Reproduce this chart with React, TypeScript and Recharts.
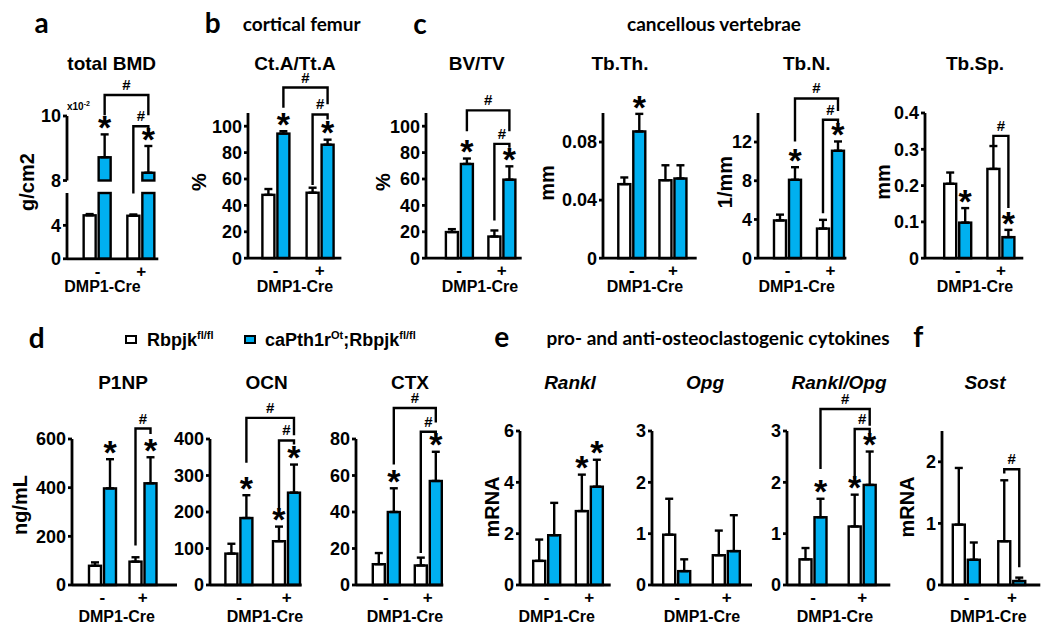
import React from 'react'
import { BarChart, Bar, XAxis, YAxis, ErrorBar } from 'recharts'

const GROUPS = ['-', '+']

// a  total BMD (x10^-2 g/cm2)
const bmdWt = [5.2, 5.15]
const bmdWtSd = [0.15, 0.15]
const bmdCa = [8.72, 8.24]
const bmdCaSd = [0.71, 0.83]

// b  Ct.A/Tt.A (%)
const ctaWt = [48, 49.6]
const ctaWtSd = [4.4, 3.8]
const ctaCa = [94.4, 86]
const ctaCaSd = [1.8, 3.8]

// c  BV/TV (%)
const bvWt = [19.8, 16.4]
const bvWtSd = [2.2, 4.6]
const bvCa = [71.4, 59.5]
const bvCaSd = [4.1, 10.1]

// c  Tb.Th. (mm)
const tbthWt = [0.051, 0.0537]
const tbthWtSd = [0.0046, 0.0103]
const tbthCa = [0.0873, 0.0549]
const tbthCaSd = [0.0121, 0.0091]

// c  Tb.N. (1/mm)
const tbnWt = [3.9, 3.06]
const tbnWtSd = [0.6, 0.9]
const tbnCa = [8.1, 11.1]
const tbnCaSd = [1.3, 0.96]

// c  Tb.Sp. (mm)
const tbspWt = [0.205, 0.246]
const tbspWtSd = [0.031, 0.063]
const tbspCa = [0.098, 0.058]
const tbspCaSd = [0.04, 0.02]

// d  serum markers
const p1npWt = [79, 96]
const p1npWtSd = [14, 18]
const p1npCa = [397, 418]
const p1npCaSd = [120, 107]

const ocnWt = [86, 120]
const ocnWtSd = [27, 40]
const ocnCa = [183.5, 253]
const ocnCaSd = [62.5, 77]

const ctxWt = [11.4, 10.7]
const ctxWtSd = [6.1, 4.3]
const ctxCa = [40, 57]
const ctxCaSd = [13, 16]

// e  cytokines (mRNA)
const ranklWt = [0.94, 2.88]
const ranklWtSd = [0.83, 1.42]
const ranklCa = [1.94, 3.83]
const ranklCaSd = [1.26, 1.05]

const opgWt = [0.98, 0.58]
const opgWtSd = [0.7, 0.48]
const opgCa = [0.27, 0.66]
const opgCaSd = [0.23, 0.7]

const ratioWt = [0.5, 1.14]
const ratioWtSd = [0.22, 0.62]
const ratioCa = [1.32, 1.95]
const ratioCaSd = [0.36, 0.65]

// f  Sost (mRNA)
const sostWt = [0.98, 0.71]
const sostWtSd = [0.92, 0.99]
const sostCa = [0.41, 0.065]
const sostCaSd = [0.28, 0.055]

const BLUE = '#00b0f0'
const FONT = '"Liberation Sans", Arial, sans-serif'
const HEAD = 'Lato, "Open Sans", sans-serif'
const BAR = 12
const GAP = 3
const YW = 60
const ROOM = 62
const XH = 30
const AX = 2.8
const LW = 2.4
const STAR = 34

type Bracket = { from: 'wt' | 'ca'; top: number; lb: number; rb: number }

type ChartProps = {
  wt: number[] | null
  wtSd?: number[]
  ca: number[]
  caSd?: number[]
  wtStar?: boolean[]
  caStar?: boolean[]
  brackets?: Bracket[]
  domain: [number, number]
  ticks: number[]
  x0: number
  x1: number
  yTop: number
  yBase: number
  padL: number
  padR: number
  hideX?: boolean
  below?: number
  cap?: boolean
}

function MiniChart(p: ChartProps) {
  const [dMin, dMax] = p.domain
  const plotW = p.x1 - p.x0
  const plotH = p.yBase - p.yTop
  const ppu = plotH / (dMax - dMin)
  const band = (plotW - p.padL - p.padR) / 2
  const below = p.hideX ? p.below ?? 0 : XH

  const rows = GROUPS.map((g, i) => ({
    g,
    wt: p.wt ? p.wt[i] : dMin,
    wtErr: p.wtSd ? [0, p.wtSd[i]] : [0, 0],
    ca: p.cap ? Math.min(p.ca[i], dMax) : p.ca[i],
    caErr: p.caSd ? [0, p.caSd[i]] : [0, 0],
  }))

  const shape = (series: 'wt' | 'ca') => (s: any) => {
    const index = s.index ?? GROUPS.indexOf(s.payload?.g)
    const { x, y, width, height } = s
    const row = rows[index]
    if (!row || x == null) return <g />
    const v = row[series]
    if (v <= dMin) return <g />
    const sd = (series === 'wt' ? p.wtSd : p.caSd)?.[index] ?? 0
    const py = (u: number) => y - (u - v) * ppu
    const cx = x + width / 2
    const star = (series === 'wt' ? p.wtStar : p.caStar)?.[index]
    return (
      <g>
        <rect x={x} y={y} width={width} height={height} fill={series === 'wt' ? '#fff' : BLUE} stroke="#000" strokeWidth={LW} />
        {star && (
          <text x={cx} y={py(v + sd) - 13 + STAR * 0.52} textAnchor="middle" fontSize={STAR} fontWeight={700} fill="#000">
            *
          </text>
        )}
        {series === 'ca' && index === 1 &&
          (p.brackets ?? []).map((b, k) => {
            const lx = b.from === 'ca' ? cx - band : cx - (BAR + GAP)
            const ty = py(b.top)
            return (
              <g key={k}>
                <path d={`M${lx},${py(b.lb)}V${ty}H${cx}V${py(b.rb)}`} fill="none" stroke="#000" strokeWidth={LW} />
                <text x={(lx + cx) / 2} y={ty - 5} textAnchor="middle" fontSize={15} fontWeight={700} fill="#000">
                  #
                </text>
              </g>
            )
          })}
      </g>
    )
  }

  const xTick = { fill: '#000', fontSize: 17, fontWeight: 700 }
  const yTick = { fill: '#000', fontSize: 18, fontWeight: 700 }

  return (
    <div style={{ position: 'absolute', left: p.x0 - YW, top: p.yTop - ROOM }}>
      <BarChart
        width={YW + plotW + 6}
        height={ROOM + plotH + below}
        data={rows}
        margin={{ top: ROOM, right: 6, bottom: p.hideX ? below : 0, left: 0 }}
        barSize={BAR}
        barGap={GAP}
      >
        <XAxis
          dataKey="g"
          hide={p.hideX}
          height={XH}
          padding={{ left: p.padL, right: p.padR }}
          axisLine={{ stroke: '#000', strokeWidth: AX }}
          tickLine={false}
          tickSize={4}
          tick={xTick}
          interval={0}
        />
        <YAxis
          width={YW}
          type="number"
          domain={p.domain}
          ticks={p.ticks}
          interval={0}
          axisLine={{ stroke: '#000', strokeWidth: AX }}
          tickLine={{ stroke: '#000', strokeWidth: AX }}
          tickSize={4}
          tick={yTick}
        />
        <Bar dataKey="wt" isAnimationActive={false} shape={shape('wt')}>
          {p.wtSd && <ErrorBar dataKey="wtErr" width={4} stroke="#000" strokeWidth={LW} direction="y" isAnimationActive={false} />}
        </Bar>
        <Bar dataKey="ca" isAnimationActive={false} shape={shape('ca')}>
          {p.caSd && <ErrorBar dataKey="caErr" width={4} stroke="#000" strokeWidth={LW} direction="y" isAnimationActive={false} />}
        </Bar>
      </BarChart>
    </div>
  )
}

function Txt({ x, y, children, style }: { x: number; y: number; children: React.ReactNode; style?: React.CSSProperties }) {
  return (
    <div
      style={{
        position: 'absolute',
        left: x,
        top: y,
        transform: 'translate(-50%, -50%)',
        whiteSpace: 'nowrap',
        lineHeight: 1,
        ...style,
      }}
    >
      {children}
    </div>
  )
}

function VTxt({ x, y, children }: { x: number; y: number; children: React.ReactNode }) {
  return (
    <Txt x={x} y={y} style={{ transform: 'translate(-50%, -50%) rotate(-90deg)', fontSize: 20, fontWeight: 700 }}>
      {children}
    </Txt>
  )
}

type Panel = {
  title: string
  italic?: boolean
  yLabel: string
  tx: number
  ty: number
  lx: number
  ly: number
  dx: number
  dy: number
  chart: ChartProps
}

const ROW1_BASE = 258.5
const ROW2_BASE = 584.5

const panels: Panel[] = [
  {
    title: 'Ct.A/Tt.A', yLabel: '%', tx: 295, ty: 63, lx: 199, ly: 182, dx: 295, dy: 287,
    chart: {
      wt: ctaWt, wtSd: ctaWtSd, ca: ctaCa, caSd: ctaCaSd, caStar: [true, true],
      brackets: [
        { from: 'ca', top: 129.3, lb: 114, rb: 116.6 },
        { from: 'wt', top: 108.9, lb: 55.5, rb: 105 },
      ],
      domain: [0, 110], ticks: [0, 20, 40, 60, 80, 100],
      x0: 248.3, x1: 341.7, yTop: 113.3, yBase: ROW1_BASE, padL: 5.4, padR: -0.4,
    },
  },
  {
    title: 'BV/TV', yLabel: '%', tx: 476.7, ty: 63, lx: 383.3, ly: 182, dx: 480, dy: 287,
    chart: {
      wt: bvWt, wtSd: bvWtSd, ca: bvCa, caSd: bvCaSd, caStar: [true, true],
      brackets: [
        { from: 'ca', top: 112, lb: 96.2, rb: 96.2 },
        { from: 'wt', top: 86.6, lb: 28.6, rb: 83.6 },
      ],
      domain: [0, 110], ticks: [0, 20, 40, 60, 80, 100],
      x0: 426, x1: 521.7, yTop: 113.3, yBase: ROW1_BASE, padL: 11.9, padR: -1.2,
    },
  },
  {
    title: 'Tb.Th.', yLabel: 'mm', tx: 620, ty: 63, lx: 546.7, ly: 183, dx: 645, dy: 287,
    chart: {
      wt: tbthWt, wtSd: tbthWtSd, ca: tbthCa, caSd: tbthCaSd, caStar: [true, false],
      domain: [0, 0.1], ticks: [0, 0.04, 0.08],
      x0: 603.3, x1: 697, yTop: 113.3, yBase: ROW1_BASE, padL: 8.3, padR: 3.1,
    },
  },
  {
    title: 'Tb.N.', yLabel: '1/mm', tx: 806.7, ty: 63, lx: 725, ly: 182, dx: 796.7, dy: 287,
    chart: {
      wt: tbnWt, wtSd: tbnWtSd, ca: tbnCa, caSd: tbnCaSd, caStar: [true, true],
      brackets: [
        { from: 'ca', top: 16.5, lb: 12.06, rb: 15.2 },
        { from: 'wt', top: 14.3, lb: 4.65, rb: 13.9 },
      ],
      domain: [0, 15], ticks: [0, 4, 8, 12],
      x0: 758.3, x1: 846.7, yTop: 113.3, yBase: ROW1_BASE, padL: 8, padR: -5.6,
    },
  },
  {
    title: 'Tb.Sp.', yLabel: 'mm', tx: 975, ty: 63, lx: 882.7, ly: 182, dx: 975, dy: 287,
    chart: {
      wt: tbspWt, wtSd: tbspWtSd, ca: tbspCa, caSd: tbspCaSd, caStar: [true, true],
      brackets: [{ from: 'wt', top: 0.337, lb: 0.309, rb: 0.138 }],
      domain: [0, 0.4], ticks: [0, 0.1, 0.2, 0.3, 0.4],
      x0: 925, x1: 1023.3, yTop: 113.3, yBase: ROW1_BASE, padL: 11.2, padR: 0.7,
    },
  },
  {
    title: 'P1NP', yLabel: 'ng/mL', tx: 123, ty: 382, lx: 20, ly: 505, dx: 116.7, dy: 617,
    chart: {
      wt: p1npWt, wtSd: p1npWtSd, ca: p1npCa, caSd: p1npCaSd, caStar: [true, true],
      brackets: [{ from: 'wt', top: 643, lb: 162, rb: 621 }],
      domain: [0, 600], ticks: [0, 200, 400, 600],
      x0: 71.7, x1: 176.7, yTop: 438.5, yBase: ROW2_BASE, padL: 10, padR: 14,
    },
  },
  {
    title: 'OCN', yLabel: '', tx: 266.7, ty: 382, lx: 0, ly: 0, dx: 265, dy: 617,
    chart: {
      wt: ocnWt, wtSd: ocnWtSd, ca: ocnCa, caSd: ocnCaSd, wtStar: [false, true], caStar: [true, true],
      brackets: [
        { from: 'ca', top: 458, lb: 335, rb: 410 },
        { from: 'wt', top: 396, lb: 206, rb: 385 },
      ],
      domain: [0, 400], ticks: [0, 100, 200, 300, 400],
      x0: 210, x1: 301.7, yTop: 438.5, yBase: ROW2_BASE, padL: 5.4, padR: -8.9,
    },
  },
  {
    title: 'CTX', yLabel: '', tx: 410, ty: 382, lx: 0, ly: 0, dx: 405, dy: 617,
    chart: {
      wt: ctxWt, wtSd: ctxWtSd, ca: ctxCa, caSd: ctxCaSd, caStar: [true, true],
      brackets: [
        { from: 'ca', top: 97, lb: 66, rb: 89 },
        { from: 'wt', top: 84, lb: 17.6, rb: 81 },
      ],
      domain: [0, 80], ticks: [0, 20, 40, 60, 80],
      x0: 356, x1: 443.3, yTop: 438.5, yBase: ROW2_BASE, padL: 8.8, padR: -5.5,
    },
  },
  {
    title: 'Rankl', italic: true, yLabel: 'mRNA', tx: 570, ty: 382, lx: 491.7, ly: 507, dx: 556.7, dy: 617,
    chart: {
      wt: ranklWt, wtSd: ranklWtSd, ca: ranklCa, caSd: ranklCaSd, wtStar: [false, true], caStar: [false, true],
      domain: [0, 6], ticks: [0, 2, 4, 6],
      x0: 520, x1: 610.7, yTop: 430.5, yBase: ROW2_BASE, padL: 5.2, padR: 0.2,
    },
  },
  {
    title: 'Opg', italic: true, yLabel: '', tx: 705, ty: 382, lx: 0, ly: 0, dx: 702, dy: 617,
    chart: {
      wt: opgWt, wtSd: opgWtSd, ca: opgCa, caSd: opgCaSd,
      domain: [0, 3], ticks: [0, 1, 2, 3],
      x0: 651.7, x1: 751.7, yTop: 430.5, yBase: ROW2_BASE, padL: 0.2, padR: 0.6,
    },
  },
  {
    title: 'Rankl/Opg', italic: true, yLabel: '', tx: 839, ty: 382, lx: 0, ly: 0, dx: 835, dy: 617,
    chart: {
      wt: ratioWt, wtSd: ratioWtSd, ca: ratioCa, caSd: ratioCaSd, wtStar: [false, true], caStar: [true, true],
      brackets: [
        { from: 'ca', top: 3.43, lb: 2.26, rb: 3.1 },
        { from: 'wt', top: 3.04, lb: 2.07, rb: 2.95 },
      ],
      domain: [0, 3], ticks: [0, 1, 2, 3],
      x0: 786.7, x1: 890, yTop: 430.5, yBase: ROW2_BASE, padL: 1.5, padR: 3.4,
    },
  },
  {
    title: 'Sost', italic: true, yLabel: 'mRNA', tx: 985, ty: 382, lx: 906.7, ly: 507, dx: 988.3, dy: 617,
    chart: {
      wt: sostWt, wtSd: sostWtSd, ca: sostCa, caSd: sostCaSd,
      brackets: [{ from: 'wt', top: 1.88, lb: 1.81, rb: 0.29 }],
      domain: [0, 2.5], ticks: [0, 1, 2],
      x0: 941.7, x1: 1040, yTop: 430.5, yBase: ROW2_BASE, padL: 1.8, padR: 5.6,
    },
  },
]

const titleStyle: React.CSSProperties = { fontSize: 19, fontWeight: 700 }
const xLabelStyle: React.CSSProperties = { fontSize: 16, fontWeight: 700 }
const letterStyle: React.CSSProperties = { fontFamily: HEAD, fontSize: 28, fontWeight: 700 }
const headStyle: React.CSSProperties = { fontFamily: HEAD, fontSize: 19, fontWeight: 700 }
const supStyle: React.CSSProperties = { fontSize: 11, position: 'relative', top: -7 }

function LegendBox({ x, fill }: { x: number; fill: string }) {
  return (
    <div
      style={{
        position: 'absolute',
        left: x,
        top: 335,
        width: 12,
        height: 9,
        boxSizing: 'border-box',
        border: '2.5px solid #000',
        background: fill,
      }}
    />
  )
}

export default function App() {
  return (
    <div
      style={{
        position: 'absolute',
        left: 0,
        top: 0,
        width: 1050,
        height: 636,
        overflow: 'hidden',
        background: '#fff',
        fontFamily: FONT,
        color: '#000',
      }}
    >
      {/* panel letters and section headings */}
      <Txt x={41.7} y={22} style={letterStyle}>a</Txt>
      <Txt x={212.7} y={22} style={letterStyle}>b</Txt>
      <Txt x={420} y={22.5} style={letterStyle}>c</Txt>
      <Txt x={36.7} y={337} style={letterStyle}>d</Txt>
      <Txt x={501.7} y={336} style={letterStyle}>e</Txt>
      <Txt x={918.3} y={336} style={letterStyle}>f</Txt>
      <Txt x={301.7} y={23.3} style={headStyle}>cortical femur</Txt>
      <Txt x={714} y={23.3} style={headStyle}>cancellous vertebrae</Txt>
      <Txt x={718} y={337} style={headStyle}>pro- and anti-osteoclastogenic cytokines</Txt>

      {/* legend */}
      <LegendBox x={125} fill="#fff" />
      <div style={{ position: 'absolute', left: 147, top: 330, fontSize: 18, fontWeight: 700, whiteSpace: 'nowrap' }}>
        Rbpjk<span style={supStyle}>fl/fl</span>
      </div>
      <LegendBox x={244} fill={BLUE} />
      <div style={{ position: 'absolute', left: 265, top: 330, fontSize: 18, fontWeight: 700, whiteSpace: 'nowrap' }}>
        caPth1r<span style={supStyle}>Ot</span>;Rbpjk<span style={supStyle}>fl/fl</span>
      </div>

      {/* panel a: broken y axis drawn as two stacked charts */}
      <MiniChart
        wt={null}
        ca={bmdCa}
        caSd={bmdCaSd}
        caStar={[true, true]}
        brackets={[
          { from: 'ca', top: 10.65, lb: 10.02, rb: 10.02 },
          { from: 'wt', top: 9.68, lb: 7.6, rb: 9.55 },
        ]}
        domain={[8, 10]}
        ticks={[8, 10]}
        x0={66.7}
        x1={158}
        yTop={115.5}
        yBase={180}
        padL={8.65}
        padR={-4.75}
        hideX
        below={16}
      />
      <MiniChart
        wt={bmdWt}
        wtSd={bmdWtSd}
        ca={bmdCa}
        cap
        domain={[0, 7.87]}
        ticks={[0, 4]}
        x0={66.7}
        x1={158}
        yTop={192.7}
        yBase={ROW1_BASE}
        padL={8.65}
        padR={-4.75}
      />
      <div style={{ position: 'absolute', left: 67, top: 101, fontSize: 10, fontWeight: 700, whiteSpace: 'nowrap' }}>
        x10<span style={{ fontSize: 7, position: 'relative', top: -4 }}>-2</span>
      </div>
      <Txt x={111.7} y={63} style={titleStyle}>total BMD</Txt>
      <VTxt x={26.7} y={182}>g/cm2</VTxt>
      <Txt x={102.5} y={287} style={xLabelStyle}>DMP1-Cre</Txt>

      {panels.map((pn, i) => (
        <React.Fragment key={i}>
          <MiniChart {...pn.chart} />
          <Txt x={pn.tx} y={pn.ty} style={{ ...titleStyle, fontStyle: pn.italic ? 'italic' : 'normal' }}>
            {pn.title}
          </Txt>
          {pn.yLabel && <VTxt x={pn.lx} y={pn.ly}>{pn.yLabel}</VTxt>}
          <Txt x={pn.dx} y={pn.dy} style={xLabelStyle}>DMP1-Cre</Txt>
        </React.Fragment>
      ))}
    </div>
  )
}
